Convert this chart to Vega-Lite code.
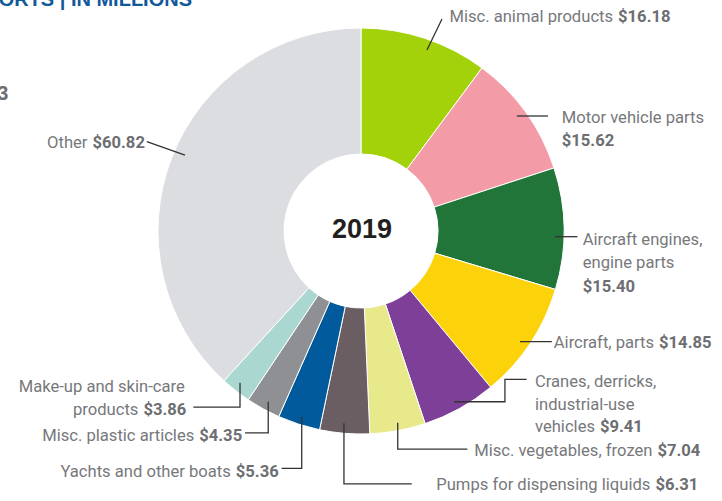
{
  "$schema": "https://vega.github.io/schema/vega-lite/v6.json",
  "width": 722,
  "height": 462,
  "autosize": {"type": "none"},
  "padding": {"left": 0, "top": 0, "right": 0, "bottom": 39},
  "background": "white",
  "config": {"view": {"stroke": null}},
  "datasets": {
    "slices": [
      {"name": "Misc. animal products", "value": 16.18, "order": 1},
      {"name": "Motor vehicle parts", "value": 15.62, "order": 2},
      {"name": "Aircraft engines, engine parts", "value": 15.40, "order": 3},
      {"name": "Aircraft, parts", "value": 14.85, "order": 4},
      {"name": "Cranes, derricks, industrial-use vehicles", "value": 9.41, "order": 5},
      {"name": "Misc. vegetables, frozen", "value": 7.04, "order": 6},
      {"name": "Pumps for dispensing liquids", "value": 6.31, "order": 7},
      {"name": "Yachts and other boats", "value": 5.36, "order": 8},
      {"name": "Misc. plastic articles", "value": 4.35, "order": 9},
      {"name": "Make-up and skin-care products", "value": 3.86, "order": 10},
      {"name": "Other", "value": 60.82, "order": 11}
    ],
    "leaders": [
      {"id": "a", "seq": 1, "x": 32.5, "y": 89.2}, {"id": "a", "seq": 2, "x": 39.9, "y": 104.4},
      {"id": "b", "seq": 1, "x": 76.8, "y": 56.65}, {"id": "b", "seq": 2, "x": 92.1, "y": 56.65},
      {"id": "c", "seq": 1, "x": 95.6, "y": -2.8}, {"id": "c", "seq": 2, "x": 106.6, "y": -2.8},
      {"id": "d", "seq": 1, "x": 78.3, "y": -54.5}, {"id": "d", "seq": 2, "x": 94.0, "y": -54.5},
      {"id": "e", "seq": 1, "x": 45.8, "y": -84.1}, {"id": "e", "seq": 2, "x": 70.9, "y": -84.1},
      {"id": "e", "seq": 3, "x": 70.9, "y": -73.1}, {"id": "e", "seq": 4, "x": 81.6, "y": -73.1},
      {"id": "f", "seq": 1, "x": 18.1, "y": -94.4}, {"id": "f", "seq": 2, "x": 18.1, "y": -107.4},
      {"id": "f", "seq": 3, "x": 52.4, "y": -107.4},
      {"id": "g", "seq": 1, "x": -8.4, "y": -94.7}, {"id": "g", "seq": 2, "x": -8.4, "y": -124.6},
      {"id": "g", "seq": 3, "x": 25.0, "y": -124.6},
      {"id": "h", "seq": 1, "x": -29.2, "y": -91.5}, {"id": "h", "seq": 2, "x": -29.2, "y": -116.9},
      {"id": "h", "seq": 3, "x": -39.1, "y": -116.9},
      {"id": "i", "seq": 1, "x": -45.7, "y": -84.1}, {"id": "i", "seq": 2, "x": -45.7, "y": -99.4},
      {"id": "i", "seq": 3, "x": -57.1, "y": -99.4},
      {"id": "j", "seq": 1, "x": -59.6, "y": -74.7}, {"id": "j", "seq": 2, "x": -59.6, "y": -86.8},
      {"id": "j", "seq": 3, "x": -82.6, "y": -86.8},
      {"id": "k", "seq": 1, "x": -105.5, "y": 44.0}, {"id": "k", "seq": 2, "x": -86.7, "y": 37.4}
    ],
    "labels": [
      {"t": "Misc. animal products", "x": 125.4, "y": 103.0, "role": "pre"},
      {"t": "$16.18", "x": 125.4, "y": 103.0, "role": "post"},
      {"t": "Motor vehicle parts", "x": 98.9, "y": 53.05, "role": "left"},
      {"t": "$15.62", "x": 98.9, "y": 41.9, "role": "leftBold"},
      {"t": "Aircraft engines,", "x": 109.2, "y": -6.9, "role": "left"},
      {"t": "engine parts", "x": 109.2, "y": -18.4, "role": "left"},
      {"t": "$15.40", "x": 109.2, "y": -29.9, "role": "leftBold"},
      {"t": "Aircraft, parts", "x": 145.6, "y": -57.8, "role": "pre"},
      {"t": "$14.85", "x": 145.6, "y": -57.8, "role": "post"},
      {"t": "Cranes, derricks,", "x": 85.7, "y": -77.0, "role": "left"},
      {"t": "industrial-use", "x": 85.7, "y": -88.2, "role": "left"},
      {"t": "vehicles", "x": 116.5, "y": -98.9, "role": "pre"},
      {"t": "$9.41", "x": 116.5, "y": -98.9, "role": "post"},
      {"t": "Misc. vegetables, frozen", "x": 144.8, "y": -110.8, "role": "pre"},
      {"t": "$7.04", "x": 144.8, "y": -110.8, "role": "post"},
      {"t": "Pumps for dispensing liquids", "x": 143.8, "y": -127.6, "role": "pre"},
      {"t": "$6.31", "x": 143.8, "y": -127.6, "role": "post"},
      {"t": "Yachts and other boats", "x": -62.9, "y": -121.0, "role": "pre"},
      {"t": "$5.36", "x": -62.9, "y": -121.0, "role": "post"},
      {"t": "Misc. plastic articles", "x": -80.9, "y": -103.4, "role": "pre"},
      {"t": "$4.35", "x": -80.9, "y": -103.4, "role": "post"},
      {"t": "Make-up and skin-care", "x": -86.8, "y": -79.2, "role": "right"},
      {"t": "products", "x": -108.4, "y": -90.6, "role": "pre"},
      {"t": "$3.86", "x": -108.4, "y": -90.6, "role": "post"},
      {"t": "Other", "x": -133.5, "y": 41.0, "role": "pre"},
      {"t": "$60.82", "x": -133.5, "y": 41.0, "role": "post"},
      {"t": "2019", "x": 0.5, "y": 0.5, "role": "center"},
      {"t": "EXPORTS | IN MILLIONS", "x": -83.25, "y": 110.97, "role": "title"},
      {"t": "3", "x": -173.7, "y": 64.5, "role": "frag"}
    ]
  },
  "layer": [
    {
      "data": {"name": "slices"},
      "mark": {"type": "arc", "outerRadius": 203, "innerRadius": 77, "stroke": "white", "strokeWidth": 1},
      "encoding": {
        "theta": {"field": "value", "type": "quantitative", "stack": true},
        "order": {"field": "order", "type": "quantitative"},
        "color": {
          "field": "name", "type": "nominal", "legend": null,
          "scale": {
            "domain": ["Misc. animal products", "Motor vehicle parts", "Aircraft engines, engine parts", "Aircraft, parts", "Cranes, derricks, industrial-use vehicles", "Misc. vegetables, frozen", "Pumps for dispensing liquids", "Yachts and other boats", "Misc. plastic articles", "Make-up and skin-care products", "Other"],
            "range": ["#a3d20a", "#f39ca7", "#217539", "#fcd20a", "#7d3f98", "#e7e98b", "#6b5e62", "#015a9c", "#8e9093", "#abd7d1", "#dcdde0"]
          }
        }
      }
    },
    {
      "data": {"name": "leaders"},
      "mark": {"type": "line", "color": "#333333", "strokeWidth": 1.3, "clip": false},
      "encoding": {
        "x": {"field": "x", "type": "quantitative", "axis": null, "scale": {"domain": [-177.83, 177.83], "nice": false, "zero": false}},
        "y": {"field": "y", "type": "quantitative", "axis": null, "scale": {"domain": [-113.79, 113.79], "nice": false, "zero": false}},
        "detail": {"field": "id"},
        "order": {"field": "seq", "type": "quantitative"}
      }
    },
    {
      "data": {"name": "labels"},
      "transform": [{"filter": "datum.role === 'pre'"}],
      "mark": {"type": "text", "align": "right", "baseline": "alphabetic", "dx": -2.5, "font": "Roboto", "fontSize": 16.6, "color": "#77787b", "clip": false},
      "encoding": {
        "x": {"field": "x", "type": "quantitative"},
        "y": {"field": "y", "type": "quantitative"},
        "text": {"field": "t"}
      }
    },
    {
      "data": {"name": "labels"},
      "transform": [{"filter": "datum.role === 'post'"}],
      "mark": {"type": "text", "align": "left", "baseline": "alphabetic", "dx": 2.5, "font": "Roboto", "fontSize": 16.6, "fontWeight": "bold", "color": "#6d6e71", "clip": false},
      "encoding": {
        "x": {"field": "x", "type": "quantitative"},
        "y": {"field": "y", "type": "quantitative"},
        "text": {"field": "t"}
      }
    },
    {
      "data": {"name": "labels"},
      "transform": [{"filter": "datum.role === 'left'"}],
      "mark": {"type": "text", "align": "left", "baseline": "alphabetic", "font": "Roboto", "fontSize": 16.6, "color": "#77787b", "clip": false},
      "encoding": {
        "x": {"field": "x", "type": "quantitative"},
        "y": {"field": "y", "type": "quantitative"},
        "text": {"field": "t"}
      }
    },
    {
      "data": {"name": "labels"},
      "transform": [{"filter": "datum.role === 'leftBold'"}],
      "mark": {"type": "text", "align": "left", "baseline": "alphabetic", "font": "Roboto", "fontSize": 16.6, "fontWeight": "bold", "color": "#6d6e71", "clip": false},
      "encoding": {
        "x": {"field": "x", "type": "quantitative"},
        "y": {"field": "y", "type": "quantitative"},
        "text": {"field": "t"}
      }
    },
    {
      "data": {"name": "labels"},
      "transform": [{"filter": "datum.role === 'right'"}],
      "mark": {"type": "text", "align": "right", "baseline": "alphabetic", "font": "Roboto", "fontSize": 16.6, "color": "#77787b", "clip": false},
      "encoding": {
        "x": {"field": "x", "type": "quantitative"},
        "y": {"field": "y", "type": "quantitative"},
        "text": {"field": "t"}
      }
    },
    {
      "data": {"name": "labels"},
      "transform": [{"filter": "datum.role === 'center'"}],
      "mark": {"type": "text", "align": "center", "baseline": "middle", "font": "Liberation Sans", "fontSize": 27, "fontWeight": "bold", "color": "#231f20", "clip": false},
      "encoding": {
        "x": {"field": "x", "type": "quantitative"},
        "y": {"field": "y", "type": "quantitative"},
        "text": {"field": "t"}
      }
    },
    {
      "data": {"name": "labels"},
      "transform": [{"filter": "datum.role === 'title'"}],
      "mark": {"type": "text", "align": "right", "baseline": "alphabetic", "font": "Liberation Sans", "fontSize": 20, "fontWeight": "bold", "color": "#12599a", "clip": false},
      "encoding": {
        "x": {"field": "x", "type": "quantitative"},
        "y": {"field": "y", "type": "quantitative"},
        "text": {"field": "t"}
      }
    },
    {
      "data": {"name": "labels"},
      "transform": [{"filter": "datum.role === 'frag'"}],
      "mark": {"type": "text", "align": "right", "baseline": "alphabetic", "font": "Liberation Sans", "fontSize": 20, "fontWeight": "bold", "color": "#6d6e71", "clip": false},
      "encoding": {
        "x": {"field": "x", "type": "quantitative"},
        "y": {"field": "y", "type": "quantitative"},
        "text": {"field": "t"}
      }
    }
  ]
}
